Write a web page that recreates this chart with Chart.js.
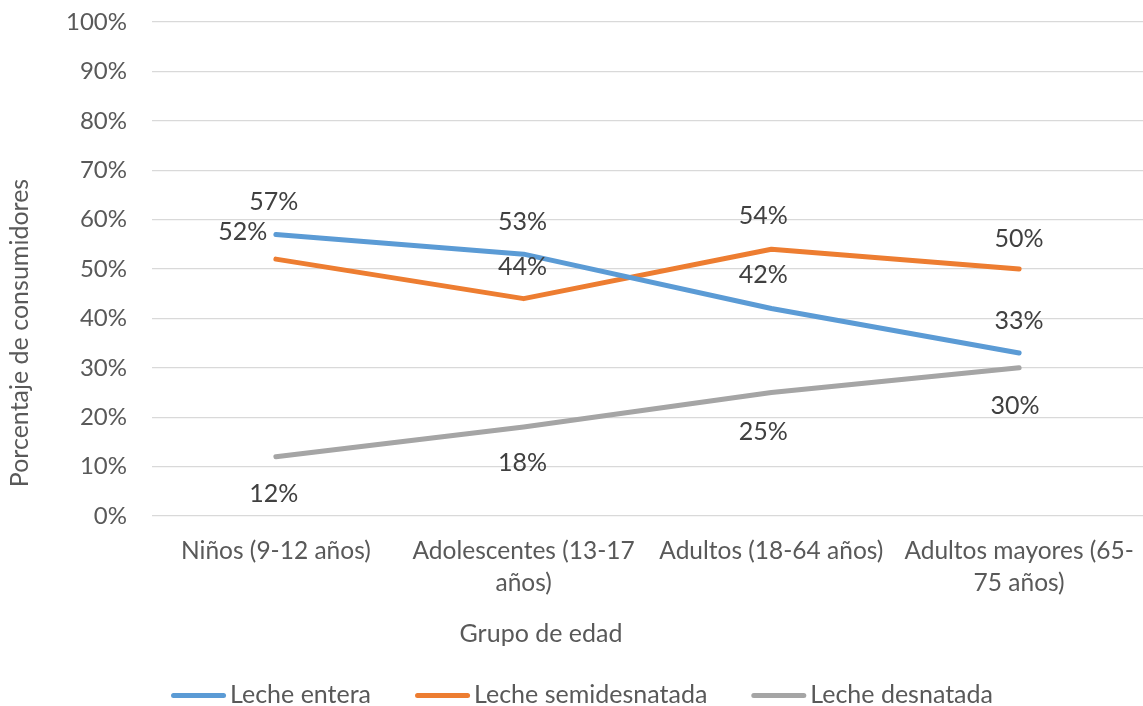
<!DOCTYPE html>
<html>
<head>
<meta charset="utf-8">
<script src="https://cdn.jsdelivr.net/npm/chart.js@4.4.1/dist/chart.umd.min.js"></script>
<style>
  html, body { margin: 0; padding: 0; background: #fff; }
  #wrap { width: 1143px; height: 706px; position: relative; }
</style>
</head>
<body>
<div id="wrap"><canvas id="lineChart"></canvas></div>
<script>
let categories = [
    ['Niños (9-12 años)'],
    ['Adolescentes (13-17', 'años)'],
    ['Adultos (18-64 años)'],
    ['Adultos mayores (65-', '75 años)']
];
let lecheEntera = [57, 53, 42, 33];
let lecheSemidesnatada = [52, 44, 54, 50];
let lecheDesnatada = [12, 18, 25, 30];
let seriesNames = ['Leche entera', 'Leche semidesnatada', 'Leche desnatada'];
let yTicks = [0, 10, 20, 30, 40, 50, 60, 70, 80, 90, 100];

const FONT = 'Lato, "Open Sans", sans-serif';
const colors = ['#5B9BD5', '#ED7D31', '#A5A5A5'];

// where each value label sits relative to its point
const labelOffsets = [
    [[-2, -32], [-1, -32], [-8, -34], [0, -32]],
    [[-33, -27], [-1, -32], [-8, -33], [0, -30]],
    [[-2, 37], [-1, 36], [-8, 39], [-4, 38]]
];

const valueLabels = {
    id: 'valueLabels',
    afterDatasetsDraw(chart) {
        let ctx = chart.ctx;
        ctx.save();
        ctx.font = '25px ' + FONT;
        ctx.fillStyle = '#404040';
        ctx.textAlign = 'center';
        ctx.textBaseline = 'middle';
        chart.data.datasets.forEach((ds, i) => {
            chart.getDatasetMeta(i).data.forEach((pt, j) => {
                let off = labelOffsets[i][j];
                ctx.fillText(ds.data[j] + '%', pt.x + off[0], pt.y + off[1]);
            });
        });
        ctx.restore();
    }
};

const titlesAndLegend = {
    id: 'titlesAndLegend',
    afterDraw(chart) {
        let ctx = chart.ctx;
        ctx.save();
        ctx.font = '25px ' + FONT;
        ctx.fillStyle = '#595959';
        ctx.textAlign = 'center';
        ctx.textBaseline = 'middle';
        ctx.fillText('Grupo de edad', 541, 634);

        ctx.save();
        ctx.translate(20, 333);
        ctx.rotate(-Math.PI / 2);
        ctx.fillText('Porcentaje de consumidores', 0, 0);
        ctx.restore();

        // legend row
        let sample = 55, gapText = 4, gapItem = 44;
        let widths = seriesNames.map(n => sample + gapText + ctx.measureText(n).width);
        let total = widths.reduce((a, b) => a + b, 0) + gapItem * (widths.length - 1);
        let x = 582 - total / 2;
        ctx.textAlign = 'left';
        ctx.textBaseline = 'alphabetic';
        seriesNames.forEach((n, i) => {
            ctx.strokeStyle = colors[i];
            ctx.lineWidth = 5;
            ctx.lineCap = 'round';
            ctx.beginPath();
            ctx.moveTo(x + 2.5, 695.5);
            ctx.lineTo(x + sample - 2.5, 695.5);
            ctx.stroke();
            ctx.fillText(n, x + sample + gapText, 703);
            x += widths[i] + gapItem;
        });
        ctx.restore();
    }
};

let chart = document.getElementById('lineChart');
let lineChart = new Chart(chart, {
    type: 'line',
    data: {
        labels: categories,
        datasets: [lecheEntera, lecheSemidesnatada, lecheDesnatada].map((vals, i) => ({
            label: seriesNames[i],
            data: vals,
            borderColor: colors[i],
            backgroundColor: colors[i],
            borderWidth: 5,
            borderCapStyle: 'round',
            borderJoinStyle: 'round',
            tension: 0,
            pointRadius: 0,
            fill: false
        }))
    },
    options: {
        responsive: true,
        maintainAspectRatio: false,
        animation: false,
        layout: { padding: { top: 22, right: 0, left: 0, bottom: 0 } },
        plugins: {
            legend: { display: false },
            tooltip: { enabled: false }
        },
        scales: {
            x: {
                offset: true,
                grid: { display: false, drawTicks: false },
                border: { display: false },
                ticks: {
                    color: '#595959',
                    font: { family: FONT, size: 24.5, lineHeight: 1.3 },
                    padding: 19,
                    maxRotation: 0,
                    autoSkip: false
                },
                afterFit(scale) {
                    scale.height = 190;
                    scale.paddingLeft = 0;
                    scale.paddingRight = 0;
                }
            },
            y: {
                min: 0,
                max: 100,
                afterBuildTicks(scale) { scale.ticks = yTicks.map(v => ({ value: v })); },
                grid: { color: '#D9D9D9', lineWidth: 1.3, drawTicks: false },
                border: { display: false },
                ticks: {
                    color: '#595959',
                    font: { family: FONT, size: 24 },
                    padding: 25,
                    callback: v => v + '%'
                },
                afterFit(scale) {
                    scale.width = 152;
                    scale.paddingTop = 0;
                    scale.paddingBottom = 0;
                }
            }
        }
    },
    plugins: [valueLabels, titlesAndLegend]
});
</script>
</body>
</html>
